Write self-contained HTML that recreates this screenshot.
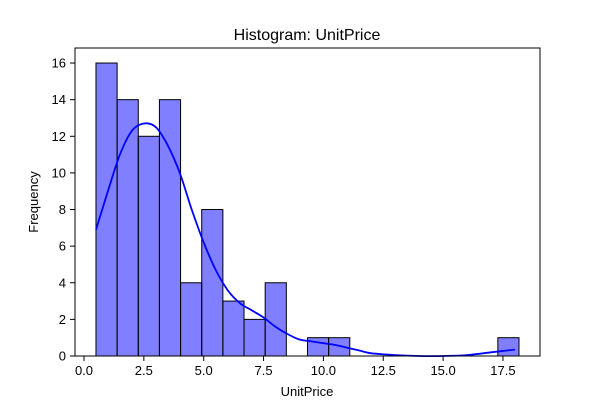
<!DOCTYPE html>
<html><head><meta charset="utf-8"><style>
body{margin:0;background:#fff;font-family:"Liberation Sans","DejaVu Sans",sans-serif;}
</style></head><body>
<svg id="chart" width="600" height="400" xmlns="http://www.w3.org/2000/svg">
<rect width="600" height="400" fill="#fff"/>
<text x="307" y="40" font-size="16" text-anchor="middle">Histogram: UnitPrice</text>
<g id="bars"></g>
<g id="ticks"></g>
<path id="kde" fill="none" stroke="#0000ff" stroke-width="1.8" stroke-linejoin="round"/>
<rect x="75" y="48" width="465" height="308" fill="none" stroke="#000" stroke-width="1"/>
<text x="307" y="396" font-size="13" text-anchor="middle">UnitPrice</text>
<text x="38" y="202" font-size="13" text-anchor="middle" transform="rotate(-90 38 202)">Frequency</text>
</svg>
<script>
const binStart = 0.5;
const binWidth = 0.8835;
const counts = [16,14,12,14,4,8,3,2,4,0,1,1,0,0,0,0,0,0,0,1];
const xTicks = [0,2.5,5,7.5,10,12.5,15,17.5];
const xTickLabels = ["0.0","2.5","5.0","7.5","10.0","12.5","15.0","17.5"];
const yTicks = [0,2,4,6,8,10,12,14,16];
const kdeX = [0.5,1,1.5,2,2.5,3,3.5,4,4.5,5,5.5,6,6.5,7,7.5,8,8.5,9,9.5,10,10.5,11,11.5,12,13,14,15,16,17,18];
const kdeY = [6.9,9,11,12.3,12.7,12.5,11.5,10,8,6.2,4.7,3.6,2.9,2.5,2.1,1.6,1.2,0.9,0.8,0.7,0.6,0.45,0.3,0.15,0.05,0,0,0.05,0.2,0.35];
const NS="http://www.w3.org/2000/svg";
const xs=v=>84+v*23.94, ys=v=>356-v*18.31;
const bars=document.getElementById('bars'), ticks=document.getElementById('ticks');
counts.forEach((c,i)=>{ if(!c) return;
 const r=document.createElementNS(NS,'rect');
 const x0=xs(binStart+i*binWidth), x1=xs(binStart+(i+1)*binWidth);
 r.setAttribute('x',x0);r.setAttribute('width',x1-x0);r.setAttribute('y',ys(c));r.setAttribute('height',ys(0)-ys(c));
 r.setAttribute('fill','rgba(0,0,255,0.5)');r.setAttribute('stroke','#000');r.setAttribute('stroke-width','1');
 
 
 bars.appendChild(r);});
xTicks.forEach((v,i)=>{const l=document.createElementNS(NS,'line');
 l.setAttribute('x1',xs(v));l.setAttribute('x2',xs(v));l.setAttribute('y1',356);l.setAttribute('y2',361);l.setAttribute('stroke','#000');
 
 
 ticks.appendChild(l);
 const t=document.createElementNS(NS,'text');t.setAttribute('x',xs(v));t.setAttribute('y',375);t.setAttribute('font-size','13');t.setAttribute('text-anchor','middle');t.textContent=xTickLabels[i];
 
 
 ticks.appendChild(t);});
yTicks.forEach(v=>{const l=document.createElementNS(NS,'line');
 l.setAttribute('x1',70);l.setAttribute('x2',75);l.setAttribute('y1',ys(v));l.setAttribute('y2',ys(v));l.setAttribute('stroke','#000');
 
 
 ticks.appendChild(l);
 const t=document.createElementNS(NS,'text');t.setAttribute('x',66);t.setAttribute('y',ys(v)+4.5);t.setAttribute('font-size','13');t.setAttribute('text-anchor','end');t.textContent=v;
 
 
 ticks.appendChild(t);});
// smooth curve through points (Catmull-Rom)
const P=kdeX.map((x,i)=>[xs(x),ys(kdeY[i])]);
let d='M'+P[0][0].toFixed(1)+' '+P[0][1].toFixed(1);
for(let i=0;i<P.length-1;i++){const p0=P[Math.max(0,i-1)],p1=P[i],p2=P[i+1],p3=P[Math.min(P.length-1,i+2)];
 d+=' C'+(p1[0]+(p2[0]-p0[0])/6).toFixed(1)+' '+(p1[1]+(p2[1]-p0[1])/6).toFixed(1)+' '+(p2[0]-(p3[0]-p1[0])/6).toFixed(1)+' '+(p2[1]-(p3[1]-p1[1])/6).toFixed(1)+' '+p2[0].toFixed(1)+' '+p2[1].toFixed(1);}
document.getElementById('kde').setAttribute('d',d);
</script>
</body></html>
